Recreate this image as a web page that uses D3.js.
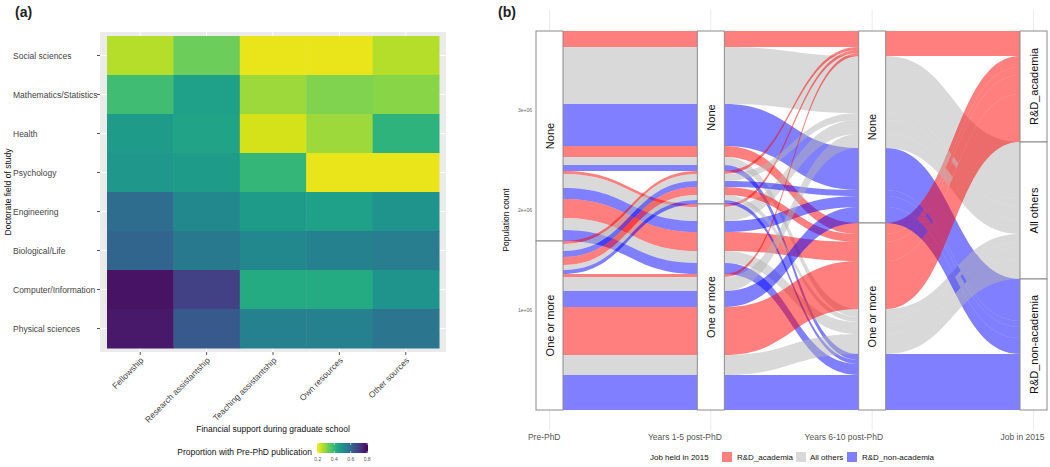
<!DOCTYPE html>
<html>
<head>
<meta charset="utf-8">
<script src="https://cdn.jsdelivr.net/npm/d3@7"></script>
<style>
  html, body { margin: 0; padding: 0; background: #fff; }
  svg { display: block; font-family: "Liberation Sans", Arial, sans-serif; }
</style>
</head>
<body>
<svg id="chart" width="1050" height="467"></svg>
<script>
// ---------------- DATA: panel (a) heatmap ----------------
const fields = ["Social sciences", "Mathematics/Statistics", "Health", "Psychology",
                "Engineering", "Biological/Life", "Computer/Information", "Physical sciences"];
const supports = ["Fellowship", "Research assistantship", "Teaching assistantship",
                  "Own resources", "Other sources"];
// proportion with pre-PhD publication; one row per field, columns follow `supports`
const propSocial    = [0.26, 0.33, 0.21, 0.21, 0.26];
const propMath      = [0.38, 0.46, 0.28, 0.31, 0.30];
const propHealth    = [0.47, 0.45, 0.23, 0.28, 0.41];
const propPsych     = [0.48, 0.47, 0.40, 0.21, 0.21];
const propEng       = [0.59, 0.52, 0.47, 0.46, 0.49];
const propBio       = [0.61, 0.56, 0.52, 0.54, 0.55];
const propComputer  = [0.78, 0.69, 0.43, 0.43, 0.49];
const propPhysical  = [0.77, 0.64, 0.54, 0.54, 0.57];
const propRows = [propSocial, propMath, propHealth, propPsych, propEng, propBio, propComputer, propPhysical];
const colorTicks = [0.2, 0.4, 0.6, 0.8];
const colorLimits = [0.19, 0.81];

// ---------------- DATA: panel (b) alluvial ----------------
const axesNames = ["Pre-PhD", "Years 1-5 post-PhD", "Years 6-10 post-PhD", "Job in 2015"];
const pubLevels = ["None", "One or more"];
const jobLevels = ["R&D_academia", "All others", "R&D_non-academia"];
const jobColors = ["#FF0000", "#B3B3B3", "#0000FF"];
// counts: [Y6-10 None: acad, others, non-acad,  Y6-10 One+: acad, others, non-acad]
const countsPreNone_Y15None = [160000, 570000, 420000, 110000, 80000, 60000];
const countsPreNone_Y15One  = [30000, 140000, 110000, 190000, 120000, 110000];
const countsPreOne_Y15None  = [30000, 70000, 60000, 80000, 50000, 40000];
const countsPreOne_Y15One   = [30000, 140000, 160000, 480000, 200000, 350000];
const yTicks = [1e6, 2e6, 3e6];

// ---------------- setup ----------------
const svg = d3.select("#chart");

// ======== Panel (a) ========
svg.append("text").attr("x", 15).attr("y", 17).attr("font-size", 14).attr("font-weight", "bold")
   .attr("fill", "#222").text("(a)");

const panelA = {x0: 100, x1: 446, y0: 32, y1: 352};
const xA = d3.scaleBand().domain(supports).range([107, 439]);
const yA = d3.scaleBand().domain(fields).range([36, 348]);
const colorA = v => d3.interpolateViridis(1 - (v - colorLimits[0]) / (colorLimits[1] - colorLimits[0]));

svg.append("rect").attr("x", panelA.x0).attr("y", panelA.y0)
   .attr("width", panelA.x1 - panelA.x0).attr("height", panelA.y1 - panelA.y0).attr("fill", "#EBEBEB");
const gA = svg.append("g");
supports.forEach(s => {
  gA.append("line").attr("x1", xA(s) + xA.bandwidth()/2).attr("x2", xA(s) + xA.bandwidth()/2)
    .attr("y1", panelA.y0).attr("y2", panelA.y1).attr("stroke", "#fff").attr("stroke-width", 1);
});
fields.forEach(f => {
  gA.append("line").attr("y1", yA(f) + yA.bandwidth()/2).attr("y2", yA(f) + yA.bandwidth()/2)
    .attr("x1", panelA.x0).attr("x2", panelA.x1).attr("stroke", "#fff").attr("stroke-width", 1);
});
const cells = [];
fields.forEach((f, i) => supports.forEach((s, j) => cells.push({f, s, v: propRows[i][j]})));
svg.append("g").selectAll("rect").data(cells).join("rect")
   .attr("x", d => xA(d.s)).attr("y", d => yA(d.f))
   .attr("width", xA.bandwidth() + 0.5).attr("height", yA.bandwidth() + 0.5)
   .attr("fill", d => colorA(d.v));

const yAx = svg.append("g");
fields.forEach(f => {
  const cy = yA(f) + yA.bandwidth()/2;
  yAx.append("line").attr("x1", 97).attr("x2", 100).attr("y1", cy).attr("y2", cy).attr("stroke", "#555");
  yAx.append("text").attr("x", 13).attr("y", cy + 3).attr("font-size", 8.5).attr("fill", "#444").text(f);
});
svg.append("text").attr("transform", "translate(11,192) rotate(-90)").attr("text-anchor", "middle")
   .attr("font-size", 8.5).attr("fill", "#111").text("Doctorate field of study");

supports.forEach(s => {
  const cx = xA(s) + xA.bandwidth()/2;
  svg.append("line").attr("x1", cx).attr("x2", cx).attr("y1", 352).attr("y2", 355).attr("stroke", "#555");
  svg.append("text").attr("transform", `translate(${cx + 4},${361}) rotate(-45)`)
     .attr("text-anchor", "end").attr("font-size", 8.5).attr("fill", "#444").text(s);
});
svg.append("text").attr("x", 273).attr("y", 432).attr("text-anchor", "middle")
   .attr("font-size", 8.5).attr("fill", "#111").text("Financial support during graduate school");

svg.append("text").attr("x", 312).attr("y", 455).attr("text-anchor", "end")
   .attr("font-size", 8.5).attr("fill", "#111").text("Proportion with Pre-PhD publication");
const legX = d3.scaleLinear().domain(colorLimits).range([317, 368]);
const defs = svg.append("defs");
const grad = defs.append("linearGradient").attr("id", "vgrad").attr("x1", "0%").attr("x2", "100%");
d3.range(0, 1.0001, 0.05).forEach(t => {
  grad.append("stop").attr("offset", (t * 100) + "%")
      .attr("stop-color", colorA(colorLimits[0] + t * (colorLimits[1] - colorLimits[0])));
});
svg.append("rect").attr("x", legX.range()[0]).attr("y", 443).attr("width", legX.range()[1] - legX.range()[0])
   .attr("height", 10).attr("fill", "url(#vgrad)");
colorTicks.forEach(t => {
  svg.append("line").attr("x1", legX(t)).attr("x2", legX(t)).attr("y1", 443).attr("y2", 445).attr("stroke", "#fff").attr("stroke-width", 0.6);
  svg.append("line").attr("x1", legX(t)).attr("x2", legX(t)).attr("y1", 451).attr("y2", 453).attr("stroke", "#fff").attr("stroke-width", 0.6);
  svg.append("text").attr("x", legX(t)).attr("y", 461).attr("text-anchor", "middle")
     .attr("font-size", 5).attr("fill", "#555").text(t.toFixed(1));
});

// ======== Panel (b) ========
svg.append("text").attr("x", 498).attr("y", 17).attr("font-size", 14).attr("font-weight", "bold")
   .attr("fill", "#222").text("(b)");

const groups = [
  {p: 0, a: 0, c: countsPreNone_Y15None},
  {p: 0, a: 1, c: countsPreNone_Y15One},
  {p: 1, a: 0, c: countsPreOne_Y15None},
  {p: 1, a: 1, c: countsPreOne_Y15One}
];
const alluvia = [];
groups.forEach(g => g.c.forEach((n, k) => {
  alluvia.push({s: [g.p, g.a, Math.floor(k / 3), k % 3], n});
}));
const total = d3.sum(alluvia, d => d.n);
const nLevels = [2, 2, 2, 3];
const orderKeys = [[0, 1, 2, 3], [1, 0, 2, 3], [2, 3, 1, 0], [3, 2, 1, 0]];

const xB = d3.scalePoint().domain(axesNames).range([549.5, 1033.5]);
const yB = d3.scaleLinear().domain([0, total]).range([410, 31]);
const fromTop = c => yB(total - c);   // stacking position measured from the top
const boxW = 27;

const strataBoxes = [];
axesNames.forEach((ax, k) => {
  const sorted = alluvia.slice().sort((u, v) => {
    for (const key of orderKeys[k]) { if (u.s[key] !== v.s[key]) return u.s[key] - v.s[key]; }
    return 0;
  });
  let cum = 0;
  sorted.forEach(al => {
    al.pos = al.pos || [];
    al.pos[k] = [cum, cum + al.n];
    cum += al.n;
  });
  let c2 = 0;
  d3.range(nLevels[k]).forEach(lv => {
    const tot = d3.sum(alluvia.filter(al => al.s[k] === lv), d => d.n);
    strataBoxes.push({k, lv, from: c2, to: c2 + tot});
    c2 += tot;
  });
});

axesNames.forEach(ax => {
  svg.append("line").attr("x1", xB(ax)).attr("x2", xB(ax)).attr("y1", 10).attr("y2", 430)
     .attr("stroke", "#EBEBEB").attr("stroke-width", 1);
});

const flowG = svg.append("g");
alluvia.forEach(al => {
  for (let k = 0; k < 3; k++) {
    const x0 = xB(axesNames[k]) + boxW / 2, x1 = xB(axesNames[k + 1]) - boxW / 2;
    const xm = (x0 + x1) / 2;
    const t0 = fromTop(al.pos[k][0]), b0 = fromTop(al.pos[k][1]);
    const t1 = fromTop(al.pos[k + 1][0]), b1 = fromTop(al.pos[k + 1][1]);
    const path = `M${x0},${t0} C${xm},${t0} ${xm},${t1} ${x1},${t1} L${x1},${b1} C${xm},${b1} ${xm},${b0} ${x0},${b0} Z`;
    flowG.append("path").attr("d", path).attr("fill", jobColors[al.s[3]]).attr("fill-opacity", 0.5);
  }
});

strataBoxes.forEach(b => {
  const cx = xB(axesNames[b.k]);
  const yt = fromTop(b.from), yb = fromTop(b.to);
  svg.append("rect").attr("x", cx - boxW / 2).attr("y", yt).attr("width", boxW).attr("height", yb - yt)
     .attr("fill", "#fff").attr("stroke", "#8a8a8a").attr("stroke-width", 1);
  const label = b.k === 3 ? jobLevels[b.lv] : pubLevels[b.lv];
  svg.append("text").attr("transform", `translate(${cx + 4},${(yt + yb) / 2}) rotate(-90)`)
     .attr("text-anchor", "middle").attr("font-size", 11).attr("fill", "#111").text(label);
});

yTicks.forEach(t => {
  svg.append("text").attr("x", 532).attr("y", yB(t) + 2).attr("text-anchor", "end")
     .attr("font-size", 5).attr("fill", "#666").text(d3.format(".0e")(t).replace("e+", "e+0"));
});
svg.append("text").attr("transform", "translate(509,220) rotate(-90)").attr("text-anchor", "middle")
   .attr("font-size", 8.5).attr("fill", "#111").text("Population count");

axesNames.forEach(ax => {
  svg.append("text").attr("x", xB(ax) + 11).attr("y", 440).attr("text-anchor", "end")
     .attr("font-size", 8.5).attr("fill", "#555").text(ax);
});

const legG = svg.append("g").attr("font-size", 8).attr("fill", "#111");
legG.append("text").attr("x", 650).attr("y", 460).text("Job held in 2015");
const legItems = [{x: 722, tx: 737}, {x: 796, tx: 810}, {x: 847, tx: 862}];
jobLevels.forEach((j, i) => {
  legG.append("rect").attr("x", legItems[i].x).attr("y", 452).attr("width", 10).attr("height", 10)
      .attr("fill", jobColors[i]).attr("fill-opacity", 0.5);
  legG.append("text").attr("x", legItems[i].tx).attr("y", 460).text(j);
});
</script>
</body>
</html>
